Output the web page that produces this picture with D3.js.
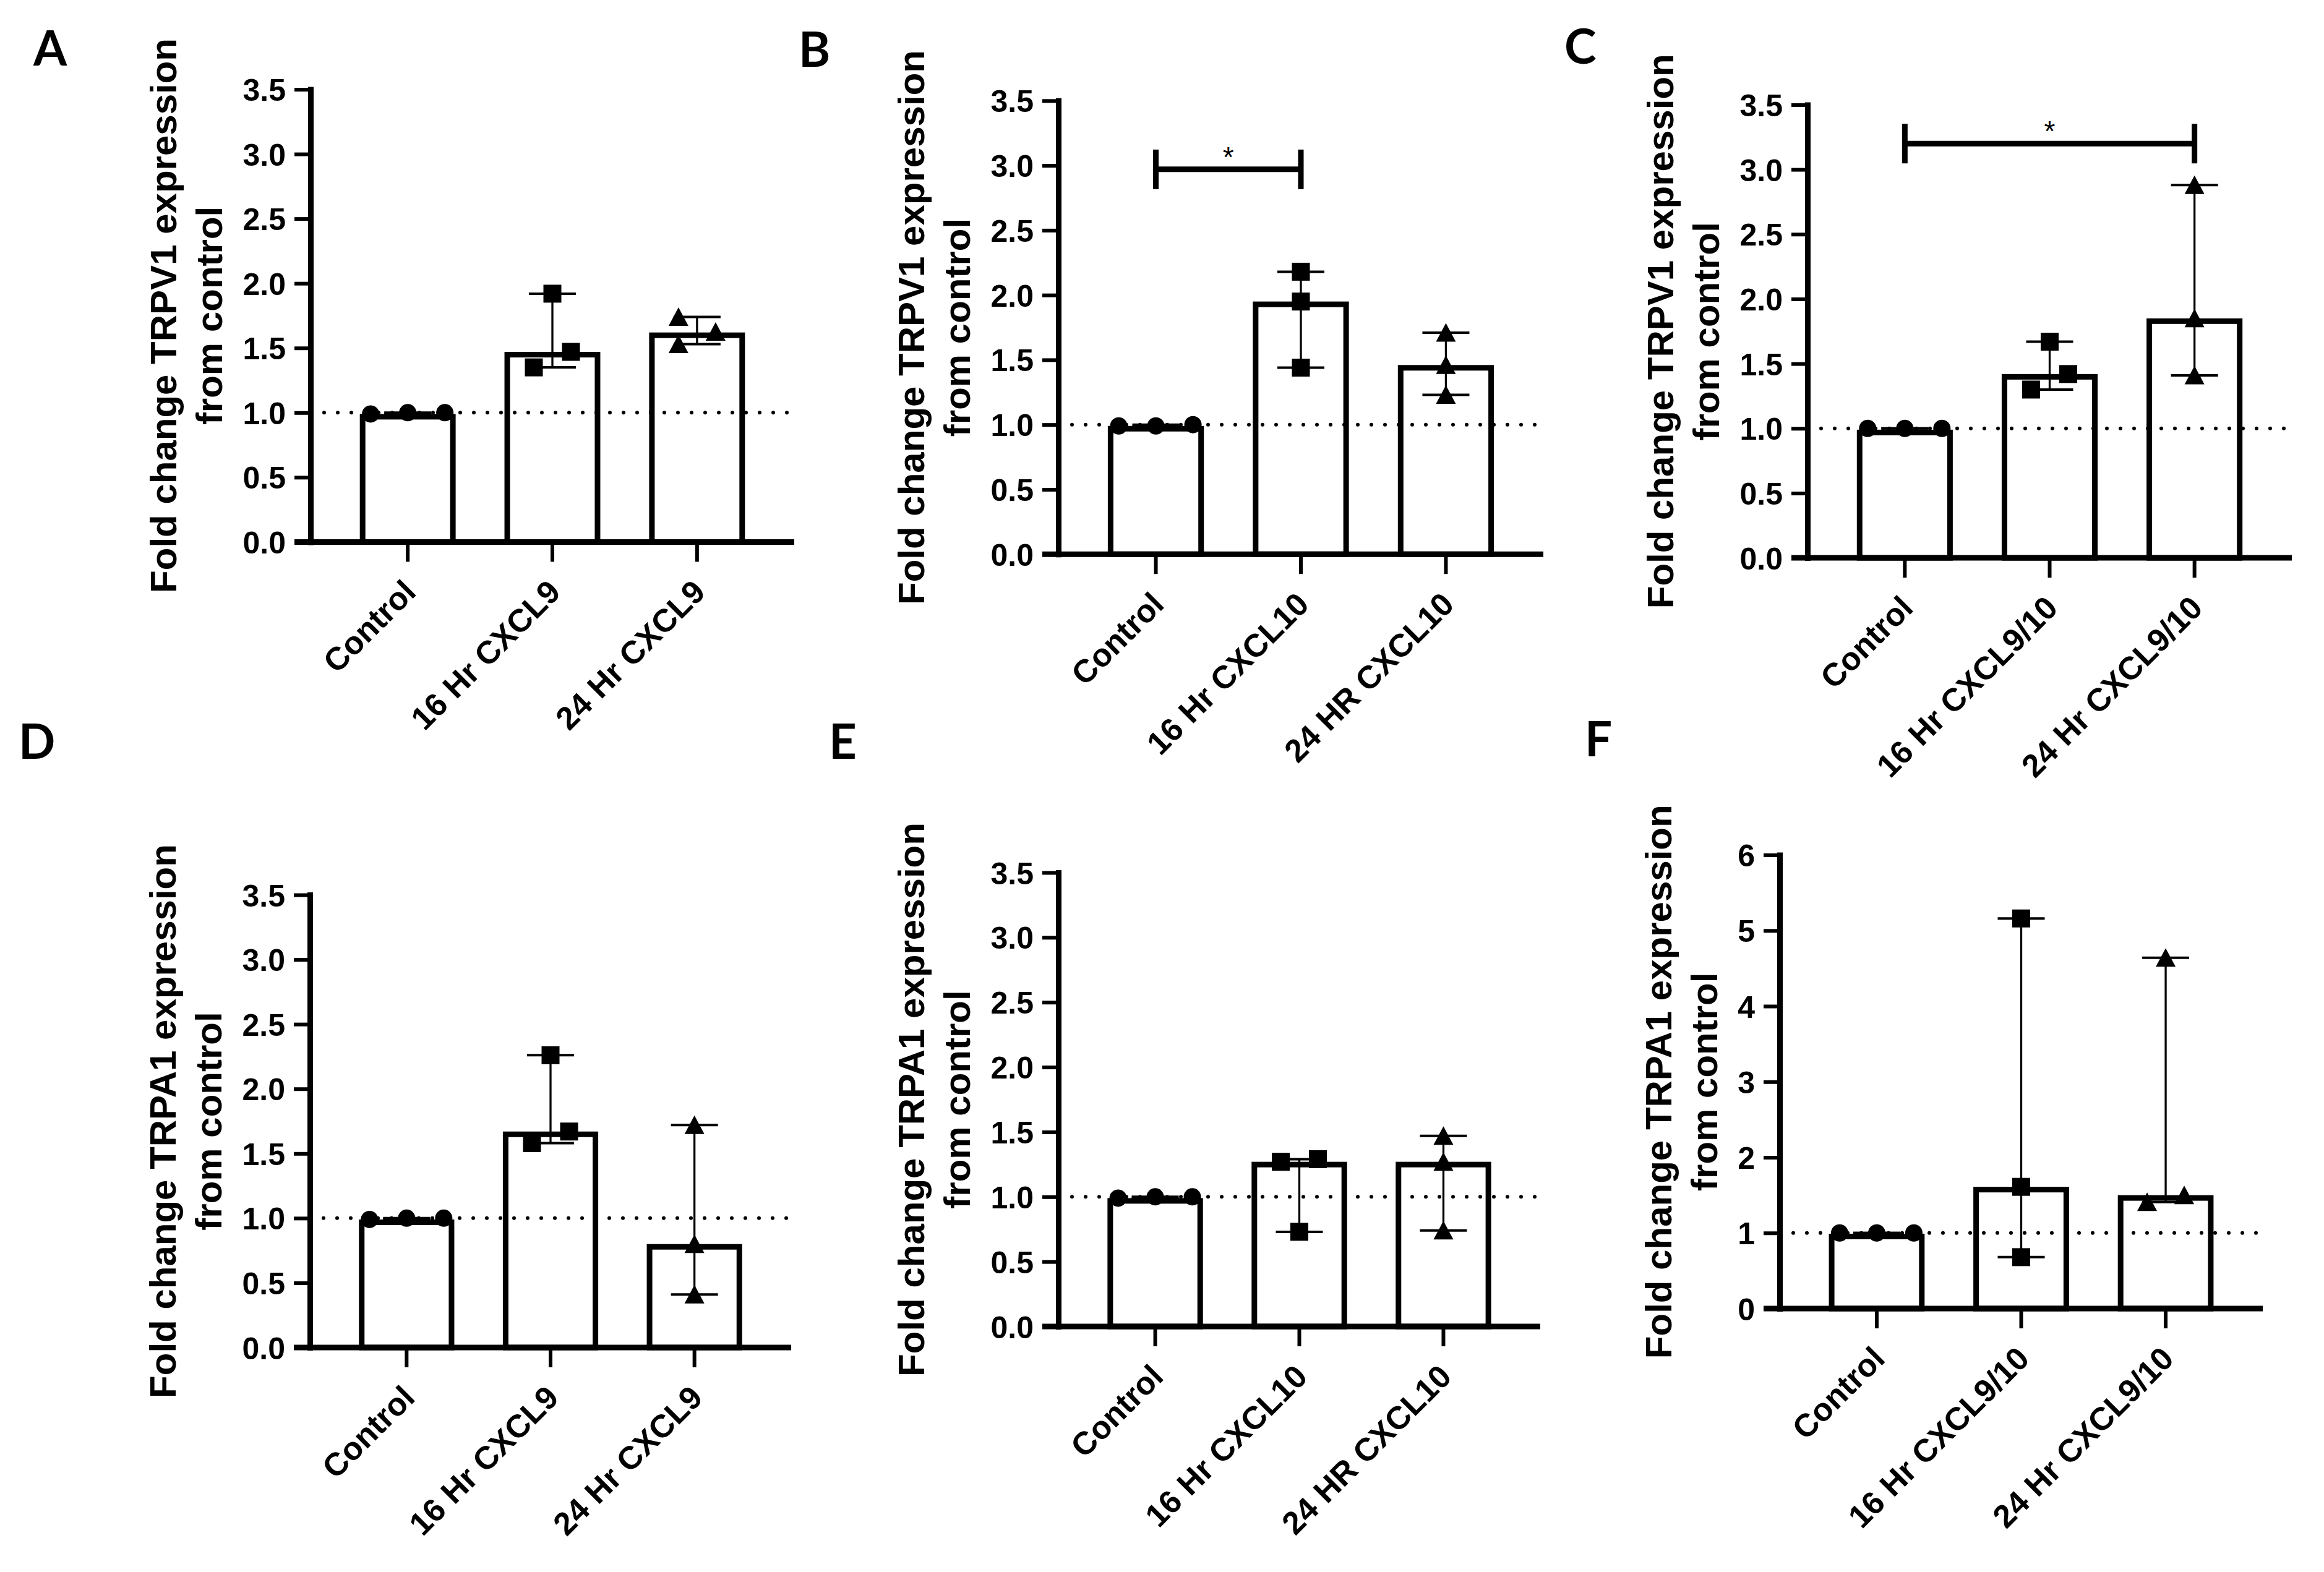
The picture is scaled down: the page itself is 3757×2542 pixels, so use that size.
<!DOCTYPE html>
<html><head><meta charset="utf-8">
<script src="https://cdn.jsdelivr.net/npm/d3@7"></script>
<style>html,body{margin:0;padding:0;background:#fff;} svg{display:block;}</style>
</head><body>
<svg id="fig" width="3757" height="2542"></svg>
<script>
// ---------------- DATA ----------------
const panelLetters = ["A", "B", "C", "D", "E", "F"];
const panelGenes = ["TRPV1", "TRPV1", "TRPV1", "TRPA1", "TRPA1", "TRPA1"];

const groupsCXCL9 = ["Control", "16 Hr CXCL9", "24 Hr CXCL9"];
const groupsCXCL10 = ["Control", "16 Hr CXCL10", "24 HR CXCL10"];
const groupsCXCL910 = ["Control", "16 Hr CXCL9/10", "24 Hr CXCL9/10"];

const ticks35 = [0, 0.5, 1.0, 1.5, 2.0, 2.5, 3.0, 3.5];
const ticks6 = [0, 1, 2, 3, 4, 5, 6];

// bar heights (as read) and individual replicate points per group
const barsA = [0.99, 1.47, 1.62];
const pointsA = [[0.99, 1.00, 1.00], [1.92, 1.35, 1.47], [1.74, 1.53, 1.625]];
const barsB = [0.99, 1.95, 1.46];
const pointsB = [[0.99, 1.00, 0.99], [2.18, 1.95, 1.44], [1.71, 1.46, 1.23]];
const barsC = [0.99, 1.42, 1.85];
const pointsC = [[1.00, 1.00, 1.00], [1.67, 1.30, 1.42], [2.88, 1.85, 1.41]];
const barsD = [0.99, 1.67, 0.80];
const pointsD = [[0.99, 1.00, 1.00], [2.26, 1.58, 1.67], [1.72, 0.80, 0.41]];
const barsE = [0.99, 1.27, 1.27];
const pointsE = [[1.00, 1.00, 0.99], [1.29, 1.27, 0.73], [1.47, 1.27, 0.74]];
const barsF = [0.99, 1.61, 1.50];
const pointsF = [[1.00, 1.00, 1.00], [5.16, 1.61, 0.68], [4.64, 1.41, 1.50]];

// significance annotations: [from group, to group, y value, label]
const sigB = ["Control", "16 Hr CXCL10", 2.97, "*"];
const sigC = ["Control", "24 Hr CXCL9/10", 3.2, "*"];

const markerShapes = ["circle", "square", "triangle"];

// ---------------- LAYOUT (pixels) ----------------
const layout = [
  {x0: 502,  x1: 1284, yt: 144.5,  yb: 876.4, lx: 54,   ly: 106},
  {x0: 1711, x1: 2495, yt: 162.8,  yb: 896.2, lx: 1291, ly: 108},
  {x0: 2922, x1: 3705, yt: 169.4,  yb: 902.1, lx: 2529, ly: 103},
  {x0: 501,  x1: 1279, yt: 1447,   yb: 2179,  lx: 30,   ly: 1227},
  {x0: 1711, x1: 2490, yt: 1411,   yb: 2145,  lx: 1340, ly: 1227},
  {x0: 2877, x1: 3658, yt: 1382.5, yb: 2116,  lx: 2562, ly: 1223}
];

const panels = [
  {groups: groupsCXCL9,   ticks: ticks35, fmt: d3.format(".1f"), bars: barsA, pts: pointsA, sig: null},
  {groups: groupsCXCL10,  ticks: ticks35, fmt: d3.format(".1f"), bars: barsB, pts: pointsB, sig: sigB},
  {groups: groupsCXCL910, ticks: ticks35, fmt: d3.format(".1f"), bars: barsC, pts: pointsC, sig: sigC},
  {groups: groupsCXCL9,   ticks: ticks35, fmt: d3.format(".1f"), bars: barsD, pts: pointsD, sig: null},
  {groups: groupsCXCL10,  ticks: ticks35, fmt: d3.format(".1f"), bars: barsE, pts: pointsE, sig: null},
  {groups: groupsCXCL910, ticks: ticks6,  fmt: d3.format("d"),   bars: barsF, pts: pointsF, sig: null}
];

// ---------------- STYLE ----------------
const FONT = "'Liberation Sans', Arial, sans-serif";
const BAR_SW = 9, AXIS_SW = 9, TICK_SW = 6;
const MARK = 29;           // marker size px
const JIT_STEP = 60;       // horizontal jitter step
const CAP_HALF = 38;

const svg = d3.select("#fig");
svg.append("rect").attr("width", 3757).attr("height", 2542).attr("fill", "#fff");

function jitter(values, y) {
  const idx = values.map((v, i) => i).sort((a, b) => values[a] - values[b]);
  const offs = values.map(() => 0);
  const clusters = [];
  let cur = [idx[0]];
  for (let k = 1; k < idx.length; k++) {
    if (Math.abs(y(values[idx[k]]) - y(values[idx[k - 1]])) < MARK) cur.push(idx[k]);
    else { clusters.push(cur); cur = [idx[k]]; }
  }
  clusters.push(cur);
  clusters.forEach(c => {
    if (c.length < 2) return;
    const span = Math.abs(y(values[c[0]]) - y(values[c[c.length - 1]]));
    if (span < MARK) c.forEach((j, k) => offs[j] = (k - (c.length - 1) / 2) * JIT_STEP);
    else c.forEach((j, k) => offs[j] = (k % 2 === 0 ? -JIT_STEP / 2 : JIT_STEP / 2));
  });
  return offs;
}

function markerPath(shape) {
  const h = MARK / 2;
  if (shape === "square") return `M${-h},${-h}H${h}V${h}H${-h}Z`;
  if (shape === "triangle") return `M0,${-h - 1}L${h + 1.5},${h}L${-h - 1.5},${h}Z`;
  const r = 14;
  return `M${r},0A${r},${r} 0 1,1 ${-r},0A${r},${r} 0 1,1 ${r},0Z`;
}

panels.forEach((p, pi) => {
  const L = layout[pi];
  const g = svg.append("g");
  const ymax = p.ticks[p.ticks.length - 1];
  const x = d3.scaleBand().domain(p.groups).range([L.x0, L.x1]).paddingInner(0.376).paddingOuter(0.36);
  const y = d3.scaleLinear().domain([0, ymax]).range([L.yb, L.yt]);
  const bw = x.bandwidth();
  const cx = d => x(d) + bw / 2;

  // bars
  g.selectAll("rect.bar").data(p.groups).join("rect").attr("class", "bar")
    .attr("x", d => x(d)).attr("width", bw)
    .attr("y", (d, i) => y(p.bars[i]) + BAR_SW / 2)
    .attr("height", (d, i) => y(0) - y(p.bars[i]) - BAR_SW / 2)
    .attr("fill", "#fff").attr("stroke", "#000").attr("stroke-width", BAR_SW);

  // dotted reference line at 1
  g.append("line").attr("x1", L.x0 + 22).attr("x2", L.x1)
    .attr("y1", y(1)).attr("y2", y(1))
    .attr("stroke", "#000").attr("stroke-width", 6)
    .attr("stroke-dasharray", "0 22").attr("stroke-linecap", "round");

  // error bars (range)
  p.groups.forEach((grp, i) => {
    const lo = d3.min(p.pts[i]), hi = d3.max(p.pts[i]);
    const c = cx(grp);
    g.append("line").attr("x1", c).attr("x2", c).attr("y1", y(lo)).attr("y2", y(hi))
      .attr("stroke", "#000").attr("stroke-width", 3.3);
    [lo, hi].forEach(v => g.append("line").attr("x1", c - CAP_HALF).attr("x2", c + CAP_HALF)
      .attr("y1", y(v)).attr("y2", y(v)).attr("stroke", "#000").attr("stroke-width", 4));
  });

  // points
  p.groups.forEach((grp, i) => {
    const offs = jitter(p.pts[i], y);
    g.selectAll(null).data(p.pts[i]).join("path")
      .attr("d", markerPath(markerShapes[i]))
      .attr("transform", (v, k) => `translate(${cx(grp) + offs[k]},${y(v)})`)
      .attr("fill", "#000");
  });

  // y axis
  const ya = g.append("g").attr("transform", `translate(${L.x0},0)`)
    .call(d3.axisLeft(y).tickValues(p.ticks).tickFormat(p.fmt).tickSize(26).tickSizeOuter(0).tickPadding(14));
  ya.select(".domain").attr("stroke-width", AXIS_SW).attr("stroke-linecap", "square");
  ya.selectAll(".tick line").attr("stroke-width", TICK_SW);
  ya.selectAll(".tick text").attr("font-family", FONT).attr("font-weight", "bold")
    .attr("font-size", 50).attr("fill", "#000").attr("dy", "0.36em");

  // x axis
  const xa = g.append("g").attr("transform", `translate(0,${y(0)})`)
    .call(d3.axisBottom(x).tickSize(32).tickSizeOuter(0).tickFormat(""));
  xa.select(".domain").attr("d", `M${L.x0 - 26},0H${L.x1}`).attr("stroke-width", AXIS_SW);
  xa.selectAll(".tick line").attr("stroke-width", TICK_SW);
  g.selectAll("text.xl").data(p.groups).join("text").attr("class", "xl")
    .attr("transform", d => `translate(${cx(d) + 16},${y(0) + 84}) rotate(-45)`)
    .attr("text-anchor", "end").attr("font-family", FONT).attr("font-weight", "bold")
    .attr("font-size", 52).attr("fill", "#000").text(d => d);

  // y title
  let maxW = 0;
  ya.selectAll(".tick text").each(function () { maxW = Math.max(maxW, this.getComputedTextLength()); });
  const labelLeft = L.x0 - 40 - maxW;
  const b2 = labelLeft - 33, b1 = b2 - 74;
  const ymid = (L.yt + L.yb) / 2;
  [[b1, `Fold change ${panelGenes[pi]} expression`], [b2, "from control"]].forEach(([bx, t]) => {
    g.append("text").attr("transform", `translate(${bx},${ymid}) rotate(-90)`)
      .attr("text-anchor", "middle").attr("font-family", FONT).attr("font-weight", "bold")
      .attr("font-size", 60).attr("fill", "#000").text(t);
  });

  // significance bracket
  if (p.sig) {
    const [a, b, v, lab] = p.sig;
    const xa1 = cx(a), xb1 = cx(b), yy = y(v);
    g.append("line").attr("x1", xa1).attr("x2", xb1).attr("y1", yy).attr("y2", yy)
      .attr("stroke", "#000").attr("stroke-width", 9);
    [xa1, xb1].forEach(xx => g.append("line").attr("x1", xx).attr("x2", xx)
      .attr("y1", yy - 32).attr("y2", yy + 32).attr("stroke", "#000").attr("stroke-width", 9));
    g.append("text").attr("x", (xa1 + xb1) / 2).attr("y", yy - 4)
      .attr("text-anchor", "middle").attr("font-family", FONT)
      .attr("font-size", 46).attr("fill", "#000").text(lab);
  }

  // panel letter
  svg.append("text").attr("x", L.lx).attr("y", L.ly)
    .attr("font-family", "Lato, 'Open Sans', sans-serif").attr("font-weight", "bold")
    .attr("font-size", 78).attr("fill", "#000").text(panelLetters[pi]);
});
</script>
</body></html>
